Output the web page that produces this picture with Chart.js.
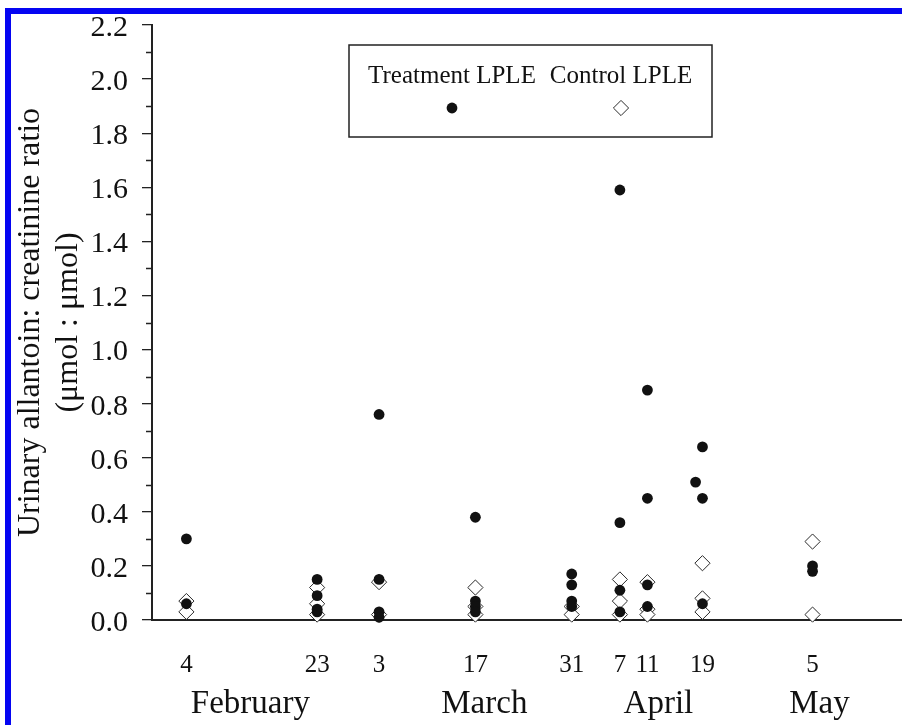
<!DOCTYPE html>
<html>
<head>
<meta charset="utf-8">
<script src="https://cdn.jsdelivr.net/npm/chart.js@4/dist/chart.umd.min.js"></script>
<style>
  html, body { margin: 0; padding: 0; background: #fff; }
  #wrap { position: relative; width: 902px; height: 725px; }
  #frame {
    position: absolute; left: 5px; top: 8px; right: 0; bottom: 0;
    border-left: 6px solid #0505f2; border-top: 6px solid #0505f2;
    pointer-events: none;
  }
</style>
</head>
<body>
<div id="wrap">
  <canvas id="allantoin-chart" width="902" height="725"></canvas>
  <div id="frame"></div>
</div>
<script>
// sampling dates as day of year (leap year), with their printed day numbers
const sampleDays = [35, 54, 63, 77, 91, 98, 102, 110, 126];
const dayLabels = ['4', '23', '3', '17', '31', '7', '11', '19', '5'];
const monthNames = ['February', 'March', 'April', 'May'];
const monthCentreDays = [44.3, 78.3, 103.6, 127];

// Treatment LPLE
const treatmentDays = [35, 35, 54, 54, 54, 54, 63, 63, 63, 63, 77, 77, 77, 77, 91, 91, 91, 91,
                       98, 98, 98, 98, 102, 102, 102, 102, 110, 109, 110, 110, 126, 126];
const treatmentRatios = [0.30, 0.06, 0.15, 0.09, 0.04, 0.03, 0.76, 0.15, 0.03, 0.01,
                         0.38, 0.07, 0.05, 0.03, 0.17, 0.13, 0.07, 0.05,
                         1.59, 0.36, 0.11, 0.03, 0.85, 0.45, 0.13, 0.05,
                         0.64, 0.51, 0.45, 0.06, 0.20, 0.18];

// Control LPLE
const controlDays = [35, 35, 54, 54, 54, 63, 63, 77, 77, 77, 91, 91,
                     98, 98, 98, 102, 102, 102, 110, 110, 110, 126, 126];
const controlRatios = [0.07, 0.03, 0.12, 0.06, 0.02, 0.14, 0.02, 0.12, 0.05, 0.02, 0.05, 0.02,
                       0.15, 0.07, 0.02, 0.14, 0.04, 0.02, 0.21, 0.08, 0.03, 0.29, 0.02];

const SERIF = "'Liberation Serif', 'Times New Roman', serif";
Chart.defaults.font.family = SERIF;
Chart.defaults.color = '#111';

const toPoints = (xs, ys) => xs.map((x, i) => ({ x: x, y: ys[i] }));
const isMajor = value => Math.round(value * 10) % 2 === 0;

// keep the plot area where the figure has it: no extra room for edge labels
function noEdgePadding(scale) {
  scale.paddingLeft = 0;
  scale.paddingRight = 0;
  scale.paddingTop = 0;
  scale.paddingBottom = 0;
}

// the odd tenths get shorter tick marks than the labelled ones
const minorTicks = {
  id: 'minorTicks',
  afterDraw(chart, args, opts) {
    const y = chart.scales.y;
    const ctx = chart.ctx;
    ctx.save();
    ctx.strokeStyle = '#222';
    ctx.lineWidth = 1.3;
    ctx.beginPath();
    y.ticks.forEach(t => {
      if (isMajor(t.value)) return;
      const py = Math.round(y.getPixelForValue(t.value)) + 0.5;
      ctx.moveTo(y.right - opts.length, py);
      ctx.lineTo(y.right, py);
    });
    ctx.stroke();
    ctx.restore();
  }
};

// legend drawn as in the figure: labels on top, markers underneath
const boxedLegend = {
  id: 'boxedLegend',
  afterDraw(chart, args, opts) {
    const ctx = chart.ctx;
    const b = opts.box;
    ctx.save();
    ctx.strokeStyle = '#222';
    ctx.lineWidth = 1.5;
    ctx.strokeRect(b.left, b.top, b.right - b.left, b.bottom - b.top);
    ctx.font = '25px ' + SERIF;
    ctx.fillStyle = '#111';
    ctx.textAlign = 'center';
    ctx.textBaseline = 'alphabetic';
    chart.data.datasets.forEach((ds, i) => {
      const cx = opts.centres[i];
      ctx.fillText(ds.label, cx, opts.textY);
      ctx.beginPath();
      if (ds.pointStyle === 'rectRot') {
        const r = ds.pointRadius;
        ctx.moveTo(cx - r, opts.markerY);
        ctx.lineTo(cx, opts.markerY - r);
        ctx.lineTo(cx + r, opts.markerY);
        ctx.lineTo(cx, opts.markerY + r);
        ctx.closePath();
      } else {
        ctx.arc(cx, opts.markerY, ds.pointRadius, 0, Math.PI * 2);
      }
      ctx.fillStyle = ds.backgroundColor;
      ctx.fill();
      if (ds.borderWidth) {
        ctx.strokeStyle = ds.borderColor;
        ctx.lineWidth = ds.borderWidth;
        ctx.stroke();
      }
      ctx.fillStyle = '#111';
    });
    ctx.restore();
  }
};

const ctx = document.getElementById('allantoin-chart').getContext('2d');

new Chart(ctx, {
  type: 'scatter',
  data: {
    datasets: [
      {
        label: 'Treatment LPLE',
        data: toPoints(treatmentDays, treatmentRatios),
        pointStyle: 'circle',
        pointRadius: 5.4,
        backgroundColor: '#111',
        borderColor: '#111',
        borderWidth: 0,
        clip: false
      },
      {
        label: 'Control LPLE',
        data: toPoints(controlDays, controlRatios),
        pointStyle: 'rectRot',
        pointRadius: 7.6,
        backgroundColor: '#fff',
        borderColor: '#2a2a2a',
        borderWidth: 1,
        clip: false
      }
    ]
  },
  options: {
    responsive: false,
    animation: false,
    devicePixelRatio: 1,
    layout: { autoPadding: false, padding: { top: 25, left: 0, right: 0, bottom: 0 } },
    plugins: {
      legend: { display: false },
      tooltip: { enabled: false },
      minorTicks: { length: 6 },
      boxedLegend: {
        box: { left: 349, top: 45, right: 712, bottom: 137 },
        centres: [452, 621],
        textY: 83,
        markerY: 108
      }
    },
    scales: {
      x: {
        type: 'linear',
        position: 'bottom',
        weight: 0,
        min: 30,
        max: 139,
        afterBuildTicks: scale => { scale.ticks = sampleDays.map(v => ({ value: v })); },
        afterFit: scale => { scale.height = 62; noEdgePadding(scale); },
        ticks: {
          autoSkip: false,
          maxRotation: 0,
          padding: 30,
          font: { size: 25 },
          callback: (value, index) => dayLabels[index]
        },
        grid: { display: false, drawTicks: false },
        border: { display: true, color: '#222', width: 2 }
      },
      xMonth: {
        type: 'linear',
        position: 'bottom',
        weight: 1,
        min: 30,
        max: 139,
        afterBuildTicks: scale => { scale.ticks = monthCentreDays.map(v => ({ value: v })); },
        afterFit: scale => { scale.height = 43; noEdgePadding(scale); },
        ticks: {
          autoSkip: false,
          maxRotation: 0,
          padding: 3,
          font: { size: 33 },
          callback: (value, index) => monthNames[index]
        },
        grid: { display: false, drawTicks: false },
        border: { display: false }
      },
      y: {
        position: 'left',
        min: 0,
        max: 2.2,
        afterFit: scale => { scale.width = 152; noEdgePadding(scale); },
        ticks: {
          stepSize: 0.1,
          autoSkip: false,
          padding: 14,
          // labels sit a little below their tick in the figure: an empty first line nudges them down
          font: { size: 30, lineHeight: 0.2 },
          callback: value => isMajor(value) ? ['', value.toFixed(1)] : ''
        },
        grid: {
          drawOnChartArea: false,
          drawTicks: true,
          tickLength: 10,
          color: '#222',
          tickColor: c => (c.tick && !isMajor(c.tick.value)) ? 'rgba(0,0,0,0)' : '#222',
          lineWidth: 1.3
        },
        border: { color: '#222', width: 2 },
        title: {
          display: true,
          text: ['Urinary allantoin: creatinine ratio', '(\u03bcmol : \u03bcmol)'],
          font: { size: 32 },
          color: '#111',
          padding: { top: 11, bottom: 0 }
        }
      }
    }
  },
  plugins: [minorTicks, boxedLegend]
});
</script>
</body>
</html>
